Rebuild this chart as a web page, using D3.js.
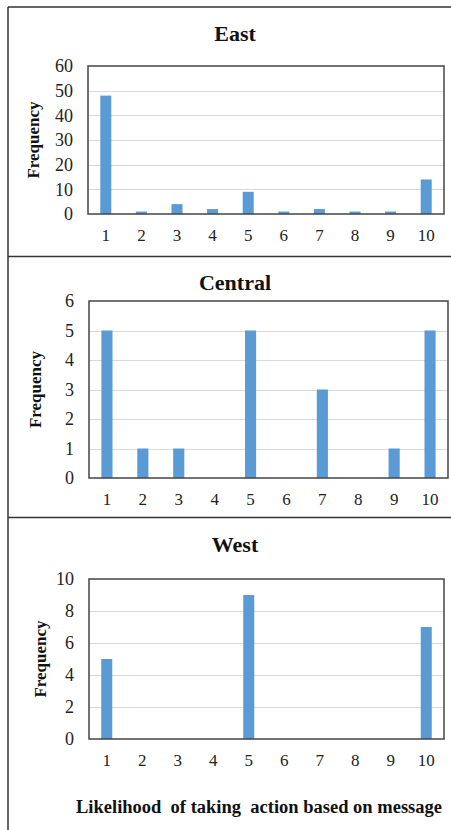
<!DOCTYPE html>
<html><head><meta charset="utf-8">
<script src="https://cdn.jsdelivr.net/npm/d3@7"></script>
<style>body{margin:0;background:#fff}svg{display:block}</style>
</head><body>
<script>
const categories = ["1","2","3","4","5","6","7","8","9","10"];
const eastValues = [48,1,4,2,9,1,2,1,1,14];
const centralValues = [5,1,1,0,5,0,3,0,1,5];
const westValues = [5,0,0,0,9,0,0,0,0,7];
const eastTicks = [0,10,20,30,40,50,60];
const centralTicks = [0,1,2,3,4,5,6];
const westTicks = [0,2,4,6,8,10];
const titles = ["East","Central","West"];
const yTitle = "Frequency";
const xTitle = "Likelihood  of taking  action based on message";

const W = 451, H = 830;
const FONT = '"Liberation Serif", "Times New Roman", serif';
const svg = d3.select("body").append("svg").attr("width", W).attr("height", H);

// outer frame
const frame = svg.append("g").attr("stroke","#333").attr("stroke-width",1.5);
frame.append("line").attr("x1",8).attr("x2",W).attr("y1",7).attr("y2",7);
frame.append("line").attr("x1",8).attr("x2",8).attr("y1",7).attr("y2",H);
frame.append("line").attr("x1",8).attr("x2",W).attr("y1",256.5).attr("y2",256.5);
frame.append("line").attr("x1",8).attr("x2",W).attr("y1",517.5).attr("y2",517.5);

const panels = [
  {title:titles[0], values:eastValues, ticks:eastTicks, l:88, r:444, t:66, b:214, titleY:33, ytX:33},
  {title:titles[1], values:centralValues, ticks:centralTicks, l:89, r:448, t:301, b:478, titleY:282, ytX:35},
  {title:titles[2], values:westValues, ticks:westTicks, l:89, r:444, t:579, b:739, titleY:544, ytX:40}
];

panels.forEach(p => {
  const x = d3.scaleBand().domain(categories).range([p.l, p.r]).paddingInner(0.69).paddingOuter(0.345);
  const y = d3.scaleLinear().domain([0, d3.max(p.ticks)]).range([p.b, p.t]);
  const g = svg.append("g");
  g.selectAll("line.grid").data(p.ticks.slice(1,-1)).join("line")
    .attr("x1",p.l).attr("x2",p.r).attr("y1",d=>Math.round(y(d))+0.5).attr("y2",d=>Math.round(y(d))+0.5)
    .attr("stroke","#d9d9d9").attr("stroke-width",1);
  g.selectAll("rect.bar").data(p.values).join("rect")
    .attr("x",(d,i)=>x(categories[i])).attr("width",x.bandwidth())
    .attr("y",d=>y(d)).attr("height",d=>p.b-y(d))
    .attr("fill","#5b9bd5");
  g.append("rect").attr("x",p.l).attr("y",p.t).attr("width",p.r-p.l).attr("height",p.b-p.t)
    .attr("fill","none").attr("stroke","#444").attr("stroke-width",1.5);
  const ya = d3.axisLeft(y).tickValues(p.ticks).tickFormat(d3.format("d")).tickSize(0).tickPadding(15);
  const yg = g.append("g").attr("transform",`translate(${p.l},0)`).call(ya);
  yg.select(".domain").remove();
  yg.selectAll("text").style("font-family",FONT).style("font-size","18px").attr("fill","#222");
  const xa = d3.axisBottom(x).tickSize(0).tickPadding(15);
  const xg = g.append("g").attr("transform",`translate(0,${p.b})`).call(xa);
  xg.select(".domain").remove();
  xg.selectAll("text").style("font-family",FONT).style("font-size","17px").attr("fill","#222");
  g.append("text").attr("x",235).attr("y",p.titleY).attr("dy","0.35em").attr("text-anchor","middle")
    .style("font-family",FONT).style("font-weight","bold").style("font-size","22px").attr("fill","#111").text(p.title);
  g.append("text").attr("transform",`translate(${p.ytX},${(p.t+p.b)/2}) rotate(-90)`).attr("dy","0.35em")
    .attr("text-anchor","middle").style("font-family",FONT).style("font-weight","bold").style("font-size","17px")
    .attr("fill","#111").text(yTitle);
});

svg.append("text").attr("x",76).attr("y",807).attr("dy","0.35em")
  .style("white-space","pre")
  .attr("textLength",366).attr("lengthAdjust","spacingAndGlyphs")
  .style("font-family",FONT).style("font-weight","bold").style("font-size","18.5px").attr("fill","#111").text(xTitle);
</script>
</body></html>
